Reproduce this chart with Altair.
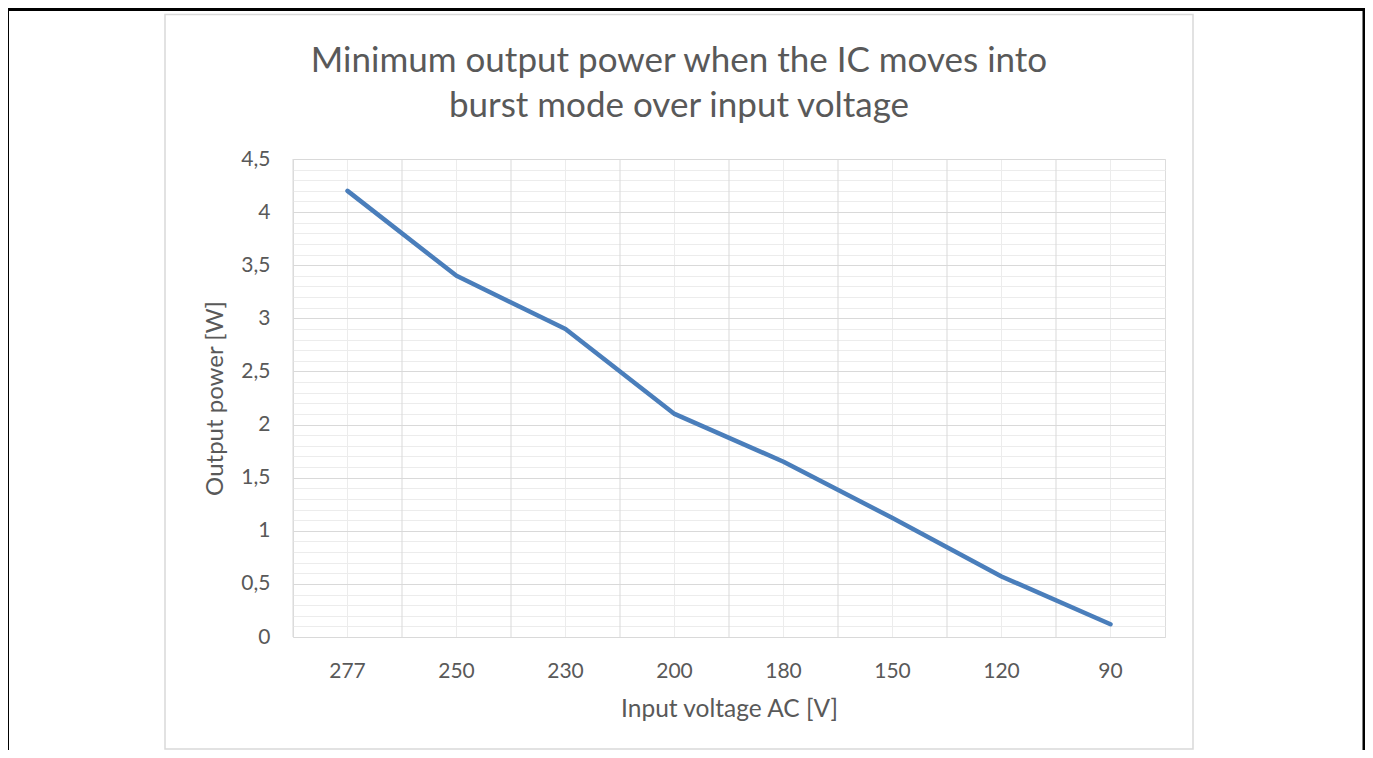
import altair as alt
import pandas as pd

voltages = ["277", "250", "230", "200", "180", "150", "120", "90"]
power = [4.2, 3.4, 2.9, 2.1, 1.65, 1.12, 0.57, 0.12]
title_lines = ["Minimum output power when the IC moves into", "burst mode over input voltage"]
x_title = "Input voltage AC [V]"
y_title = "Output power [W]"
y_ticks = [round(i * 0.1, 1) for i in range(46)]

df = pd.DataFrame({"voltage": voltages, "power": power})
frame_df = pd.DataFrame({"k": [0]})

FONT = "Lato"
TXT = "#595959"
MAJOR = "#d9d9d9"
MINOR = "#ececec"

x_scale = alt.Scale(domain=voltages, paddingInner=0, paddingOuter=0)
y_scale = alt.Scale(domain=[0, 4.5], nice=False, zero=True)

x_axis = alt.Axis(
    title=x_title, orient="bottom", domain=False, ticks=False, tickSize=0,
    labelAngle=0, labelPadding=23, labelFontSize=21, labelFont=FONT, labelColor=TXT,
    grid=True, gridColor=MINOR, gridWidth=1,
    titleFont=FONT, titleFontSize=24.5, titleFontWeight="normal", titleColor=TXT,
    titleX=436, titleY=72, titleBaseline="middle", titleAlign="center",
)
y_axis = alt.Axis(
    title=y_title, values=y_ticks, domain=False, ticks=False, tickSize=0,
    labelExpr="abs(round(datum.value*10) % 5) == 0 ? replace(format(datum.value, '~g'), '.', ',') : ''",
    labelPadding=23, labelFontSize=21, labelFont=FONT, labelColor=TXT,
    grid=True,
    gridColor={"condition": {"test": "abs(round(datum.value*10) % 5) == 0", "value": MAJOR}, "value": MINOR},
    gridWidth=1,
    titleFont=FONT, titleFontSize=24, titleFontWeight="normal", titleColor=TXT,
    titleX=-78, titleY=239, titleAngle=270, titleBaseline="middle", titleAlign="center",
)

outer = alt.Chart(frame_df).mark_rect(fill=None, stroke="black", strokeWidth=3).encode(
    x=alt.value(-285.5), x2=alt.value(1071), y=alt.value(-149.5), y2=alt.value(640)
)
box = alt.Chart(frame_df).mark_rect(fill=None, stroke=MAJOR, strokeWidth=1.5).encode(
    x=alt.value(-128), x2=alt.value(900), y=alt.value(-144.5), y2=alt.value(590)
)
title = alt.Chart(frame_df).mark_text(
    font=FONT, fontSize=35, color=TXT, align="center", baseline="alphabetic", lineHeight=45
).encode(x=alt.value(386), y=alt.value(-87), text=alt.value(title_lines))

bounds = alt.Chart(df).mark_rule(color=MAJOR, strokeWidth=1).encode(
    x=alt.X("voltage:N", bandPosition=0, scale=x_scale, sort=voltages, axis=x_axis),
)

line = alt.Chart(df).mark_line(
    color="#4a7ebb", strokeWidth=4.5, strokeCap="round", strokeJoin="round"
).encode(
    x=alt.X("voltage:N", scale=x_scale, sort=voltages, axis=x_axis),
    y=alt.Y("power:Q", scale=y_scale, axis=y_axis),
)

chart = alt.layer(outer, box, title, bounds, line).properties(
    width=872,
    height=478,
    autosize=alt.AutoSizeParams(type="none"),
    padding={"left": 285, "top": 151, "right": 200, "bottom": 113},
).configure_view(stroke=MAJOR, strokeWidth=1).configure(background="white")

chart.save("out.html", embed_options={"renderer": "svg", "actions": False})
